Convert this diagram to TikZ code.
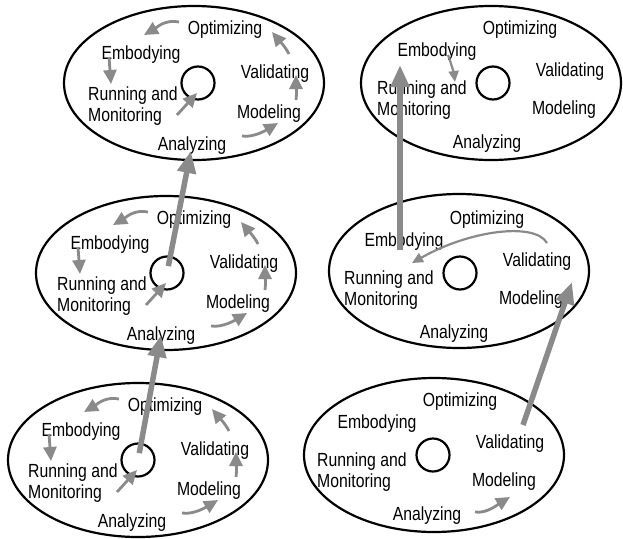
\documentclass[tikz,border=0pt]{standalone}
\usepackage{fontspec}
\setmainfont{Liberation Sans}[FakeStretch=0.83]
\usetikzlibrary{shapes.geometric,arrows.meta}
\definecolor{arrowgray}{RGB}{138,138,138}
\tikzset{
  oval/.style={ellipse, draw=black, line width=2.2pt, minimum width=260pt, minimum height=154pt, inner sep=0pt},
  hub/.style={circle, draw=black, line width=2.2pt, minimum size=33pt, inner sep=0pt},
  lbl/.style={inner sep=0pt, anchor=base, font=\fontsize{19}{21.5}\selectfont},
  lbltwo/.style={inner sep=0pt, anchor=west, align=left, font=\fontsize{19}{21.5}\selectfont},
  smallarrow/.style={color=arrowgray, line width=2.8pt, -{Triangle[length=14pt,width=13pt]}},
  thinarrow/.style={color=arrowgray, line width=2.2pt, -{Triangle[length=11pt,width=10pt]}},
  bigarrow/.style={color=arrowgray, line width=5.5pt, -{Triangle[length=22pt,width=18pt]}}
}
\newcommand\leftcycle[1]{%
  \node[lbl] (#1-opt) at (27,-49) {Optimizing};
  \node[lbl] (#1-emb) at (-57,-24) {Embodying};
  \node[lbltwo] (#1-run) at (-110,23) {Running and\\Monitoring};
  \node[lbl] (#1-val) at (77,-5) {Validating};
  \node[lbl] (#1-mod) at (71,35) {Modeling};
  \node[lbl] (#1-ana) at (-6,67) {Analyzing};
  \coordinate (#1-oe1) at (-19,-61); \coordinate (#1-oe2) at (-54,-48);
  \coordinate (#1-er1) at (-89,-26); \coordinate (#1-er2) at (-87,1);
  \coordinate (#1-rc1) at (-21,32);  \coordinate (#1-rc2) at (-1,10);
  \coordinate (#1-am1) at (44,53);   \coordinate (#1-am2) at (80,40);
  \coordinate (#1-mv1) at (98,17);   \coordinate (#1-mv2) at (98,-8);
  \coordinate (#1-vo1) at (91,-29);  \coordinate (#1-vo2) at (74,-51);
  \draw[smallarrow] (#1-oe1) .. controls +(-14,-3) and +(12,-7) .. (#1-oe2);
  \draw[smallarrow] (#1-er1) -- (#1-er2);
  \draw[smallarrow] (#1-rc1) -- (#1-rc2);
  \draw[smallarrow] (#1-am1) .. controls +(12,2) and +(-10,6) .. (#1-am2);
  \draw[smallarrow] (#1-mv1) .. controls +(1,-6) and +(0,6) .. (#1-mv2);
  \draw[smallarrow] (#1-vo1) .. controls +(-4,-8) and +(5,6) .. (#1-vo2);
}
\newcommand\rightcycle[1]{%
  \node[lbl] (#1-opt) at (27,-49) {Optimizing};
  \node[lbl] (#1-emb) at (-56,-27) {Embodying};
  \node[lbltwo] (#1-run) at (-116,17) {Running and\\Monitoring};
  \node[lbl] (#1-val) at (77,-7) {Validating};
  \node[lbl] (#1-mod) at (71,31) {Modeling};
  \node[lbl] (#1-ana) at (-6,65) {Analyzing};
}
\begin{document}
\begin{tikzpicture}[x=1pt,y=-1pt]
\useasboundingbox (0,0) rectangle (623,538);
% top left
\begin{scope}[shift={(198,83)}]
  \node[oval] (A-e) at (-4,0) {};
  \node[hub] (A-c) at (0,0) {};
  \leftcycle{A}
\end{scope}
% middle left
\begin{scope}[shift={(167,273)}]
  \node[oval] (B-e) at (-1,0) {};
  \node[hub] (B-c) at (0,0) {};
  \leftcycle{B}
\end{scope}
% bottom left
\begin{scope}[shift={(138,460)}]
  \node[oval] (C-e) at (0,0) {};
  \node[hub] (C-c) at (0,0) {};
  \leftcycle{C}
\end{scope}
% top right
\begin{scope}[shift={(493,83)}]
  \node[oval] (D-e) at (-2,0) {};
  \node[hub] (D-c) at (0,0) {};
  \rightcycle{D}
  \coordinate (D-er1) at (-45,-28); \coordinate (D-er2) at (-38,-1);
  \draw[thinarrow] (D-er1) .. controls +(3,8) and +(-1,-8) .. (D-er2);
  \coordinate (D-in) at (-93,-18);
\end{scope}
% middle right
\begin{scope}[shift={(460,273)}]
  \node[oval] (E-e) at (-1,-2) {};
  \node[hub] (E-c) at (0,0) {};
  \rightcycle{E}
  \coordinate (E-vr1) at (87,-30); \coordinate (E-vr2) at (-48,-10);
  \draw[thinarrow] (E-vr1) .. controls (75,-51) and (10,-43) .. (E-vr2);
  \coordinate (E-in) at (112,9);
\end{scope}
% bottom right
\begin{scope}[shift={(433,455)}]
  \node[oval] (F-e) at (1,0) {};
  \node[hub] (F-c) at (0,0) {};
  \rightcycle{F}
  \coordinate (F-am1) at (42,57); \coordinate (F-am2) at (77,42);
  \draw[smallarrow] (F-am1) .. controls +(12,2) and +(-10,6) .. (F-am2);
  \coordinate (F-out) at (90,-30);
\end{scope}
% big transitions
\draw[bigarrow, shorten <=7pt] (C-c.center) -- (B-ana.center);
\draw[bigarrow, shorten <=7pt, shorten >=6pt] (B-c.center) -- (A-ana.center);
\draw[bigarrow] (E-emb.south -| D-in) -- (D-in);
\draw[bigarrow] (F-out) -- (E-in);
\end{tikzpicture}
\end{document}
